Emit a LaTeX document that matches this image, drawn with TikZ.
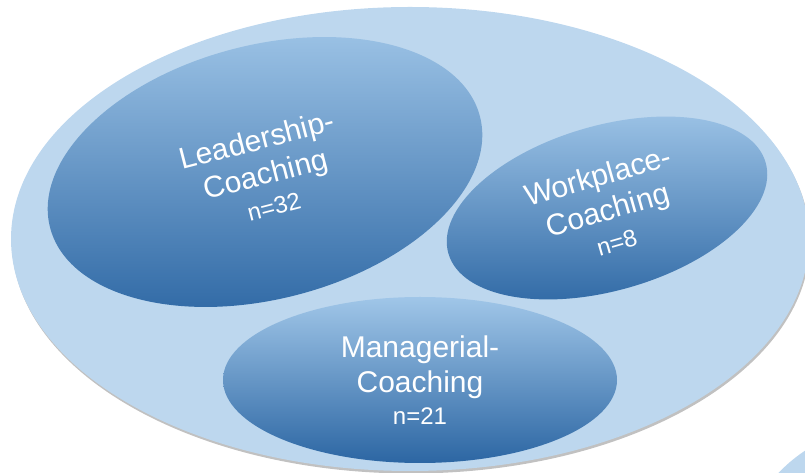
\documentclass[tikz,border=0pt]{standalone}
\usepackage{fontspec}
\setmainfont{Liberation Sans}
\usetikzlibrary{shapes.geometric,shadows}

\definecolor{outerblue}{RGB}{189,215,238}
\definecolor{lightblue}{RGB}{160,198,232}
\definecolor{midblue}{RGB}{100,158,214}
\definecolor{darkblue}{RGB}{44,102,163}

\begin{document}
\begin{tikzpicture}[x=1pt,y=1pt,
    field/.style={ellipse, inner sep=0pt, text=white, align=center,
      top color=lightblue, middle color=midblue, bottom color=darkblue,
      font=\fontsize{30}{35}\selectfont},
    nsize/.style={font=\fontsize{24}{30}\selectfont},
    soft/.style={drop shadow={shadow xshift=1pt, shadow yshift=-2.5pt,
      opacity=0.35, fill=black!70}}]

  \useasboundingbox (0,0) rectangle (805,473);
  \clip (0,0) rectangle (805,473);

  \fill[outerblue, soft] (887.5,-103) circle [radius=150];

  \node (all) [ellipse, fill=outerblue, soft, inner sep=0pt,
    minimum width=798pt, minimum height=464pt] at (410,234) {};

  \node (leader) [field, rotate=14.5, minimum width=444pt, minimum height=254pt]
    at (265,301) {Leadership-\\Coaching\\[-3pt]{\fontsize{24}{30}\selectfont n=32}};

  \node (work) [field, rotate=16, minimum width=330pt, minimum height=165pt]
    at (607,265) {Workplace-\\Coaching\\[-3pt]{\fontsize{24}{30}\selectfont n=8}};

  \node (manager) [field, minimum width=394pt, minimum height=166pt]
    at (420,93) {Managerial-\\Coaching\\[-3pt]{\fontsize{24}{30}\selectfont n=21}};
\end{tikzpicture}
\end{document}
